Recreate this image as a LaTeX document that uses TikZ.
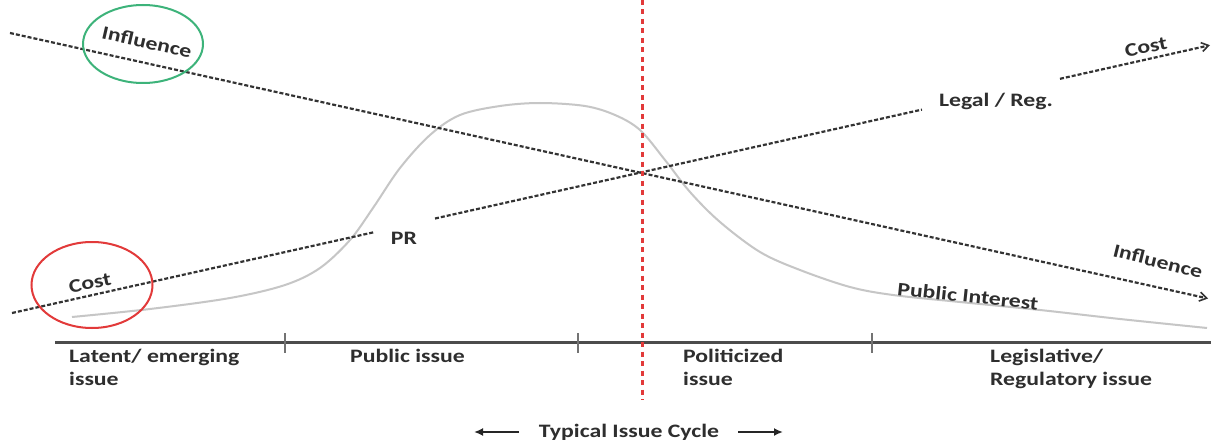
\documentclass[tikz,border=0pt]{standalone}
\usepackage{fontspec}
\setmainfont{Carlito}[FakeStretch=1.25]
\usetikzlibrary{arrows.meta,shapes.geometric}
\definecolor{txt}{HTML}{2E2E2E}
\definecolor{grn}{HTML}{3DB37A}
\definecolor{rd}{HTML}{E23A3A}
\tikzset{
  lab/.style={font=\fontsize{19}{23}\selectfont\bfseries, text=txt, inner sep=0pt},
  labl/.style={lab, align=left, anchor=north west},
  dline/.style={draw=black!80, line width=2.2pt, dash pattern=on 4pt off 2pt},
  tip/.style={-{Straight Barb[length=7pt,width=9pt,line width=1.6pt]}},
  curve/.style={draw=gray!45, line width=2pt},
  ring/.style={draw, ellipse, line width=2pt},
  tick/.style={draw=black!55, line width=2pt}
}
\begin{document}
\begin{tikzpicture}[x=1pt,y=-1pt]
\useasboundingbox (0,0) rectangle (1211,444);
\fill[white] (0,0) rectangle (1211,444);
% public interest curve
\draw[curve] plot[smooth, tension=0.55] coordinates {
 (72,317) (150,309) (230,298) (285,285) (320,268) (350,240) (373,208)
 (400,168) (430,135) (460,115) (500,106) (540,103) (585,106) (615,115)
 (640,130) (665,160) (690,192) (720,222) (760,252) (800,270) (850,287)
 (893,295) (960,302) (1040,310) (1120,319) (1207,328)};
% axis
\coordinate (a0) at (55,342);
\coordinate (a1) at (1211,342);
\draw[draw=black!70, line width=3pt] (a0) -- (a1);
\foreach \x/\n in {285/t1,578/t2,872/t3}{
  \coordinate (\n a) at (\x,333); \coordinate (\n b) at (\x,353);
  \draw[tick] (\n a) -- (\n b);}
% influence line
\coordinate (i0) at (10,33);
\coordinate (i1) at (1208,298.5);
\draw[dline, tip] (i0) -- (i1);
% cost line
\coordinate (c0) at (12,313);
\coordinate (c1) at (375,232);
\coordinate (c2) at (435,218.5);
\coordinate (c3) at (922,109.6);
\coordinate (c4) at (1060,78.8);
\coordinate (c5) at (1210,45.2);
\draw[dline] (c0) -- (c1);
\draw[dline] (c2) -- (c3);
\draw[dline, tip] (c4) -- (c5);
% red vertical
\coordinate (r0) at (642,0);
\coordinate (r1) at (642,400);
\draw[draw=rd, line width=3pt, dash pattern=on 5pt off 4.5pt] (r0) -- (r1);
% rings
\node[ring, draw=grn, minimum width=120pt, minimum height=78pt] (gring) at (143,44) {};
\node[ring, draw=rd, minimum width=121pt, minimum height=86pt] (rring) at (92,285) {};
% labels
\node[lab, rotate=-13] (inf1l) at (147,42) {Influence};
\node[lab, rotate=12] (cost1l) at (90,283) {Cost};
\node[lab] (pr) at (404,238) {PR};
\node[lab] (legal) at (996,101) {Legal / Reg.};
\node[lab, rotate=12] (cost2l) at (1146,47) {Cost};
\node[lab, rotate=-14] (inf2l) at (1158,261) {Influence};
\node[lab, rotate=-6] (pil) at (968,296) {Public Interest};
% phase labels
\node[labl] (ph1) at (69,349) {Latent/ emerging\\issue};
\node[labl] (ph2) at (350,349) {Public issue};
\node[labl] (ph3) at (683,349) {Politicized\\issue};
\node[labl] (ph4) at (990,349) {Legislative/\\Regulatory issue};
% cycle
\node[lab] (cyc) at (629,432) {Typical Issue Cycle};
\coordinate (l0) at (519,432); \coordinate (l1) at (474,432);
\coordinate (rr0) at (738,432); \coordinate (rr1) at (783,432);
\draw[line width=2.6pt, black!85, -{Latex[length=9pt,width=8pt]}] (l0) -- (l1);
\draw[line width=2.6pt, black!85, -{Latex[length=9pt,width=8pt]}] (rr0) -- (rr1);
\end{tikzpicture}
\end{document}
